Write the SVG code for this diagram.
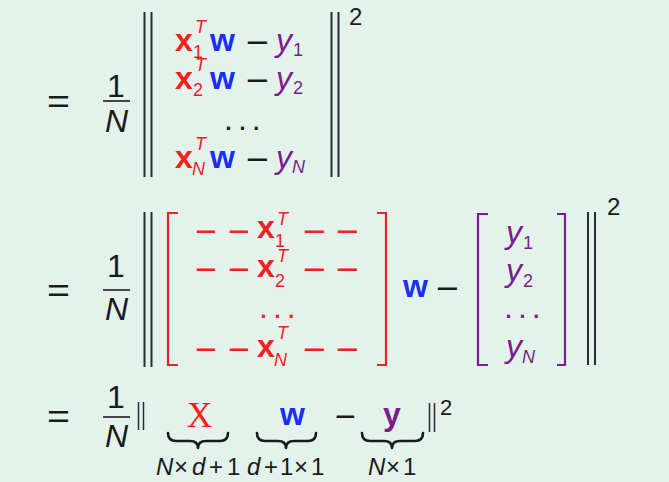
<svg xmlns="http://www.w3.org/2000/svg" width="669" height="482" viewBox="0 0 669 482">
<style>
text{font-family:"Liberation Sans",Arial,sans-serif;fill:#1a1a1a}
.m{font-size:32px}
.b{font-weight:bold}
.i{font-style:italic}
.s{font-size:18px}
.r{fill:#f2211f}
.bl{fill:#1a2ff2}
.p{fill:#7a1d8c}
.k{fill:#1a1a1a}
.eq{font-size:34px}
.mi{font-size:34px}
.sq{font-size:24px}
.lab{font-size:24px}
.bar{stroke:#2a2a36;stroke-width:2;fill:none}
.fb{stroke:#1a1a1a;stroke-width:1.6}
.rb{stroke:#ee2222;stroke-width:2.2;fill:none}
.pb{stroke:#7a1d8c;stroke-width:2.2;fill:none}
.br{stroke:#1a1a1a;stroke-width:2.6;fill:none;stroke-linecap:round;stroke-linejoin:round}
</style>
<rect width="669" height="482" fill="#e4f2ec"/>

<g id="line1">
  <text class="eq" x="47" y="113" textLength="23" lengthAdjust="spacingAndGlyphs">=</text>
  <text class="m" x="116" y="97" text-anchor="middle">1</text>
  <line class="fb" x1="103" y1="101" x2="130" y2="101"/>
  <text class="m i" x="105" y="132">N</text>
  <line class="bar" x1="144.5" y1="12" x2="144.5" y2="177"/>
  <line class="bar" x1="151.5" y1="12" x2="151.5" y2="177"/>
  <g id="row1a">
    <text class="m b r" x="175" y="51">x</text>
    <text class="s i r" x="195" y="33">T</text>
    <text class="s r" x="193" y="58">1</text>
    <text class="m b bl" x="210" y="51">w</text>
    <text class="mi k" x="246" y="54" textLength="23" lengthAdjust="spacingAndGlyphs">−</text>
    <text class="m i p" x="276" y="51">y</text>
    <text class="s p" x="293" y="56">1</text>
  </g>
  <g id="row2a">
    <text class="m b r" x="175" y="89">x</text>
    <text class="s i r" x="195" y="71">T</text>
    <text class="s r" x="193" y="96">2</text>
    <text class="m b bl" x="210" y="89">w</text>
    <text class="mi k" x="246" y="92" textLength="23" lengthAdjust="spacingAndGlyphs">−</text>
    <text class="m i p" x="276" y="89">y</text>
    <text class="s p" x="293" y="94">2</text>
  </g>
  <text class="m k" x="224" y="130" letter-spacing="5">...</text>
  <g id="rowNa">
    <text class="m b r" x="175" y="168">x</text>
    <text class="s i r" x="195" y="150">T</text>
    <text class="s i r" x="192" y="175">N</text>
    <text class="m b bl" x="210" y="168">w</text>
    <text class="mi k" x="246" y="170.5" textLength="23" lengthAdjust="spacingAndGlyphs">−</text>
    <text class="m i p" x="276" y="168">y</text>
    <text class="s i p" x="292" y="173">N</text>
  </g>
  <line class="bar" x1="331.5" y1="12" x2="331.5" y2="177"/>
  <line class="bar" x1="338.5" y1="12" x2="338.5" y2="177"/>
  <text class="sq" x="349" y="25">2</text>
</g>

<g id="line2">
  <text class="eq" x="47" y="302" textLength="23" lengthAdjust="spacingAndGlyphs">=</text>
  <text class="m" x="116" y="277" text-anchor="middle">1</text>
  <line class="fb" x1="103" y1="290" x2="130" y2="290"/>
  <text class="m i" x="105" y="320">N</text>
  <line class="bar" x1="144.5" y1="212" x2="144.5" y2="367"/>
  <line class="bar" x1="151.5" y1="212" x2="151.5" y2="367"/>
  <g id="matX">
    <path class="rb" d="M178,213 H168 V365 H178"/>
    <path class="rb" d="M377,213 H386 V365 H377"/>
    <text class="mi r" x="195" y="243" textLength="22" lengthAdjust="spacingAndGlyphs">−</text>
    <text class="mi r" x="228" y="243" textLength="22" lengthAdjust="spacingAndGlyphs">−</text>
    <text class="m b r" x="257" y="238">x</text>
    <text class="s i r" x="277" y="225">T</text>
    <text class="s r" x="275" y="247">1</text>
    <text class="mi r" x="303" y="243" textLength="23" lengthAdjust="spacingAndGlyphs">−</text>
    <text class="mi r" x="336" y="243" textLength="23" lengthAdjust="spacingAndGlyphs">−</text>

    <text class="mi r" x="195" y="281" textLength="22" lengthAdjust="spacingAndGlyphs">−</text>
    <text class="mi r" x="228" y="281" textLength="22" lengthAdjust="spacingAndGlyphs">−</text>
    <text class="m b r" x="257" y="277">x</text>
    <text class="s i r" x="277" y="262">T</text>
    <text class="s r" x="275" y="287">2</text>
    <text class="mi r" x="303" y="281" textLength="23" lengthAdjust="spacingAndGlyphs">−</text>
    <text class="mi r" x="336" y="281" textLength="23" lengthAdjust="spacingAndGlyphs">−</text>

    <text class="m r" x="259" y="318" letter-spacing="5">...</text>

    <text class="mi r" x="195" y="361" textLength="22" lengthAdjust="spacingAndGlyphs">−</text>
    <text class="mi r" x="228" y="361" textLength="22" lengthAdjust="spacingAndGlyphs">−</text>
    <text class="m b r" x="257" y="357">x</text>
    <text class="s i r" x="277" y="339">T</text>
    <text class="s i r" x="274" y="366">N</text>
    <text class="mi r" x="303" y="361" textLength="23" lengthAdjust="spacingAndGlyphs">−</text>
    <text class="mi r" x="336" y="361" textLength="23" lengthAdjust="spacingAndGlyphs">−</text>
  </g>
  <text class="m b bl" x="403" y="297">w</text>
  <text class="mi k" x="436" y="300" textLength="23" lengthAdjust="spacingAndGlyphs">−</text>
  <g id="vecY">
    <path class="pb" d="M488,214 H478 V365 H488"/>
    <path class="pb" d="M557,214 H565 V365 H557"/>
    <text class="m i p" x="506" y="243">y</text>
    <text class="s p" x="523" y="249">1</text>
    <text class="m i p" x="506" y="281">y</text>
    <text class="s p" x="523" y="287">2</text>
    <text class="m p" x="504" y="318" letter-spacing="5">...</text>
    <text class="m i p" x="506" y="357">y</text>
    <text class="s i p" x="522" y="363">N</text>
  </g>
  <line class="bar" x1="588" y1="212" x2="588" y2="365"/>
  <line class="bar" x1="595" y1="212" x2="595" y2="365"/>
  <text class="sq" x="607" y="215">2</text>
</g>

<g id="line3">
  <text class="eq" x="47" y="428" textLength="23" lengthAdjust="spacingAndGlyphs">=</text>
  <text class="m" x="116" y="408" text-anchor="middle">1</text>
  <line class="fb" x1="103" y1="417" x2="130" y2="417"/>
  <text class="m i" x="105" y="447">N</text>
  <line class="bar" x1="138.5" y1="402" x2="138.5" y2="430" style="stroke-width:1.5"/>
  <line class="bar" x1="143.5" y1="402" x2="143.5" y2="430" style="stroke-width:1.5"/>
  <g id="termX">
    <text x="187" y="427" style="font-family:'Liberation Serif','Times New Roman',serif;font-size:35px;fill:#f2211f">X</text>
    <path class="br" d="M168,433 Q168,441 176,441 L190,441 Q198,441 198,448 Q198,441 206,441 L220,441 Q228,441 228,433"/>
    <text class="lab"><tspan class="i" x="156" y="475">N</tspan><tspan x="174">×</tspan><tspan class="i" x="192">d</tspan><tspan x="209">+</tspan><tspan x="227">1</tspan></text>
  </g>
  <g id="termW">
    <text class="m b bl" x="280" y="425">w</text>
    <path class="br" d="M257,433 Q257,441 265,441 L278,441 Q286,441 286,448 Q286,441 294,441 L308,441 Q316,441 316,433"/>
    <text class="lab"><tspan class="i" x="247" y="475">d</tspan><tspan x="264">+</tspan><tspan x="280">1</tspan><tspan x="294">×</tspan><tspan x="311">1</tspan></text>
  </g>
  <text class="mi k" x="335" y="428" textLength="21" lengthAdjust="spacingAndGlyphs">−</text>
  <g id="termY">
    <text class="m b p" x="383" y="425">y</text>
    <path class="br" d="M362,433 Q362,441 370,441 L384,441 Q392,441 392,448 Q392,441 400,441 L415,441 Q423,441 423,433"/>
    <text class="lab"><tspan class="i" x="368" y="475">N</tspan><tspan x="386">×</tspan><tspan x="403">1</tspan></text>
  </g>
  <line class="bar" x1="429.5" y1="403" x2="429.5" y2="432" style="stroke-width:1.5"/>
  <line class="bar" x1="434.5" y1="403" x2="434.5" y2="432" style="stroke-width:1.5"/>
  <text x="440" y="415" style="font-size:22px">2</text>
</g>
</svg>
